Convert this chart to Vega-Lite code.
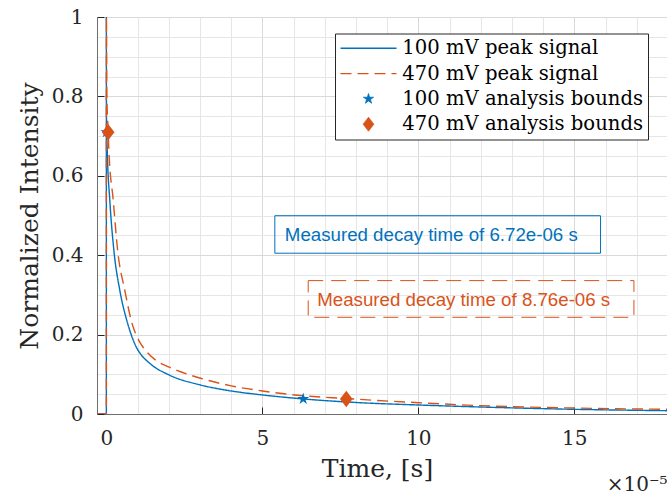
{
  "$schema": "https://vega.github.io/schema/vega-lite/v6.json",
  "width": 570,
  "height": 397,
  "autosize": {"type": "none"},
  "padding": {"left": 97, "top": 17, "right": 0, "bottom": 80},
  "background": "white",
  "config": {"view": {"stroke": null}, "font": "DejaVu Serif"},
  "datasets": {
    "curves": [
      {"series": "100 mV peak signal", "i": 0, "t": -3e-6, "I": 0},
      {"series": "100 mV peak signal", "i": 1, "t": 0, "I": 0},
      {"series": "100 mV peak signal", "i": 2, "t": 1e-9, "I": 1},
      {"series": "100 mV peak signal", "i": 3, "t": 3e-8, "I": 0.75},
      {"series": "100 mV peak signal", "i": 4, "t": 3e-7, "I": 0.66},
      {"series": "100 mV peak signal", "i": 5, "t": 1.1e-6, "I": 0.539},
      {"series": "100 mV peak signal", "i": 6, "t": 2.4e-6, "I": 0.413},
      {"series": "100 mV peak signal", "i": 7, "t": 4.3e-6, "I": 0.312},
      {"series": "100 mV peak signal", "i": 8, "t": 6.5e-6, "I": 0.237},
      {"series": "100 mV peak signal", "i": 9, "t": 8.0e-6, "I": 0.199},
      {"series": "100 mV peak signal", "i": 10, "t": 9.7e-6, "I": 0.167},
      {"series": "100 mV peak signal", "i": 11, "t": 1.08e-5, "I": 0.153},
      {"series": "100 mV peak signal", "i": 12, "t": 1.4e-5, "I": 0.127},
      {"series": "100 mV peak signal", "i": 13, "t": 2.02e-5, "I": 0.098},
      {"series": "100 mV peak signal", "i": 14, "t": 3.02e-5, "I": 0.073},
      {"series": "100 mV peak signal", "i": 15, "t": 4.0e-5, "I": 0.058},
      {"series": "100 mV peak signal", "i": 16, "t": 5.0e-5, "I": 0.048},
      {"series": "100 mV peak signal", "i": 17, "t": 6.3e-5, "I": 0.038},
      {"series": "100 mV peak signal", "i": 18, "t": 8.0e-5, "I": 0.029},
      {"series": "100 mV peak signal", "i": 19, "t": 1.0e-4, "I": 0.0227},
      {"series": "100 mV peak signal", "i": 20, "t": 1.2e-4, "I": 0.0176},
      {"series": "100 mV peak signal", "i": 21, "t": 1.5e-4, "I": 0.0118},
      {"series": "100 mV peak signal", "i": 22, "t": 1.8e-4, "I": 0.0083},
      {"series": "470 mV peak signal", "i": 0, "t": -3e-6, "I": 0},
      {"series": "470 mV peak signal", "i": 1, "t": 0, "I": 0},
      {"series": "470 mV peak signal", "i": 2, "t": 1e-9, "I": 1},
      {"series": "470 mV peak signal", "i": 3, "t": 1.6e-7, "I": 0.80},
      {"series": "470 mV peak signal", "i": 4, "t": 6e-7, "I": 0.71},
      {"series": "470 mV peak signal", "i": 5, "t": 8e-7, "I": 0.665},
      {"series": "470 mV peak signal", "i": 6, "t": 2.2e-6, "I": 0.539},
      {"series": "470 mV peak signal", "i": 7, "t": 3.6e-6, "I": 0.413},
      {"series": "470 mV peak signal", "i": 8, "t": 5.9e-6, "I": 0.312},
      {"series": "470 mV peak signal", "i": 9, "t": 8.1e-6, "I": 0.232},
      {"series": "470 mV peak signal", "i": 10, "t": 1.08e-5, "I": 0.180},
      {"series": "470 mV peak signal", "i": 11, "t": 1.23e-5, "I": 0.163},
      {"series": "470 mV peak signal", "i": 12, "t": 1.56e-5, "I": 0.137},
      {"series": "470 mV peak signal", "i": 13, "t": 2.02e-5, "I": 0.118},
      {"series": "470 mV peak signal", "i": 14, "t": 3.02e-5, "I": 0.090},
      {"series": "470 mV peak signal", "i": 15, "t": 4.0e-5, "I": 0.071},
      {"series": "470 mV peak signal", "i": 16, "t": 5.0e-5, "I": 0.058},
      {"series": "470 mV peak signal", "i": 17, "t": 6.3e-5, "I": 0.046},
      {"series": "470 mV peak signal", "i": 18, "t": 7.7e-5, "I": 0.039},
      {"series": "470 mV peak signal", "i": 19, "t": 8.7e-5, "I": 0.034},
      {"series": "470 mV peak signal", "i": 20, "t": 1.0e-4, "I": 0.0285},
      {"series": "470 mV peak signal", "i": 21, "t": 1.2e-4, "I": 0.021},
      {"series": "470 mV peak signal", "i": 22, "t": 1.5e-4, "I": 0.015},
      {"series": "470 mV peak signal", "i": 23, "t": 1.8e-4, "I": 0.0118}
    ],
    "bounds": [
      {"series": "100 mV analysis bounds", "t": 3e-8, "I": 0.71},
      {"series": "100 mV analysis bounds", "t": 6.31e-5, "I": 0.038},
      {"series": "470 mV analysis bounds", "t": 5.8e-7, "I": 0.71},
      {"series": "470 mV analysis bounds", "t": 7.69e-5, "I": 0.038}
    ],
    "notes": [
      {"series": "100 mV peak signal", "label": "Measured decay time of 6.72e-06 s", "x1": 5.40e-5, "x2": 1.584e-4, "y1": 0.405, "y2": 0.4995, "tx": 5.72e-5, "ty": 0.451},
      {"series": "470 mV peak signal", "label": "Measured decay time of 8.76e-06 s", "x1": 6.47e-5, "x2": 1.691e-4, "y1": 0.2436, "y2": 0.336, "tx": 6.76e-5, "ty": 0.287}
    ]
  },
  "layer": [
    {
      "data": {"name": "curves"},
      "mark": {"type": "line", "interpolate": "monotone", "clip": true, "strokeWidth": 1.4},
      "encoding": {
        "x": {
          "field": "t", "type": "quantitative",
          "scale": {"domain": [-3e-6, 1.797e-4], "nice": false, "zero": false},
          "axis": {
            "orient": "bottom",
            "values": [1e-5, 2e-5, 3e-5, 4e-5, 6e-5, 7e-5, 8e-5, 9e-5, 1.1e-4, 1.2e-4, 1.3e-4, 1.4e-4, 1.6e-4, 1.7e-4],
            "grid": true, "gridColor": "#e6e6e6", "gridWidth": 1,
            "ticks": false, "labels": false, "domain": false,
            "title": "×10⁻⁵", "titleFont": "DejaVu Serif", "titleFontSize": 20, "titleFontWeight": "normal",
            "titleColor": "#262626", "titleAlign": "right", "titleBaseline": "alphabetic",
            "titleX": 570, "titleY": 76, "titleAngle": 0
          }
        },
        "y": {
          "field": "I", "type": "quantitative",
          "scale": {"domain": [0, 1], "nice": false},
          "axis": {
            "orient": "left",
            "values": [0.05, 0.1, 0.15, 0.25, 0.3, 0.35, 0.45, 0.5, 0.55, 0.65, 0.7, 0.75, 0.85, 0.9, 0.95],
            "grid": true, "gridColor": "#e6e6e6", "gridWidth": 1,
            "ticks": false, "labels": false, "domain": false, "title": null
          }
        },
        "order": {"field": "i", "type": "quantitative"},
        "color": {
          "field": "series", "type": "nominal",
          "scale": {
            "domain": ["100 mV peak signal", "470 mV peak signal", "100 mV analysis bounds", "470 mV analysis bounds"],
            "range": ["#0072BD", "#D95319", "#0072BD", "#D95319"]
          },
          "legend": {
            "title": null,
            "orient": "none", "legendX": 238, "legendY": 16.5,
            "direction": "vertical",
            "fillColor": "white", "strokeColor": "#262626",
            "padding": 5, "rowPadding": 4.3,
            "symbolSize": 196, "symbolOffset": 18.7, "labelOffset": 24,
            "labelFont": "DejaVu Serif", "labelFontSize": 19.6, "labelColor": "#000000", "labelLimit": 400,
            "encode": {
              "symbols": {
                "update": {
                  "shape": {"signal": "datum.index < 2 ? 'M-4,0H4' : (datum.index == 2 ? 'M0,-1L0.2245,-0.309L0.9511,-0.309L0.3633,0.118L0.5878,0.809L0,0.382L-0.5878,0.809L-0.3633,0.118L-0.9511,-0.309L-0.2245,-0.309Z' : 'M0,-1.3L1,0L0,1.3L-1,0Z')"},
                  "size": {"signal": "datum.index < 2 ? 196 : 115"},
                  "fill": {"signal": "datum.index < 2 ? 'transparent' : (datum.index == 2 ? '#0072BD' : '#D95319')"},
                  "stroke": {"signal": "datum.index % 2 == 0 ? '#0072BD' : '#D95319'"},
                  "strokeDash": {"signal": "datum.index == 1 ? [11, 6] : [1, 0]"},
                  "strokeWidth": {"signal": "datum.index < 2 ? 1.4 : 0.8"},
                  "opacity": {"value": 1}
                }
              }
            }
          }
        },
        "strokeDash": {
          "field": "series", "type": "nominal",
          "scale": {"domain": ["100 mV peak signal", "470 mV peak signal"], "range": [[1, 0], [11, 6]]},
          "legend": null
        }
      }
    },
    {
      "data": {"name": "bounds"},
      "mark": {"type": "point", "filled": true, "size": 160, "opacity": 1, "strokeWidth": 0.8, "clip": true},
      "encoding": {
        "x": {
          "field": "t", "type": "quantitative",
          "scale": {"domain": [-3e-6, 1.797e-4], "nice": false, "zero": false},
          "axis": {
            "orient": "bottom",
            "values": [0, 5e-5, 1e-4, 1.5e-4],
            "labelExpr": "round(datum.value * 100000)",
            "grid": true, "gridColor": "#d9d9d9", "gridWidth": 1,
            "domainColor": "#6e6e6e", "domainWidth": 1,
            "tickColor": "#262626", "tickSize": -7, "tickWidth": 1,
            "labelPadding": 21, "labelFlush": false, "labelFont": "DejaVu Serif", "labelFontSize": 20, "labelColor": "#262626",
            "title": "Time, [s]", "titleFont": "DejaVu Serif", "titleFontSize": 25, "titleFontWeight": "normal",
            "titleColor": "#262626", "titleAlign": "center", "titleBaseline": "middle",
            "titleX": 280, "titleY": 54, "titleAngle": 0
          }
        },
        "y": {
          "field": "I", "type": "quantitative",
          "scale": {"domain": [0, 1], "nice": false},
          "axis": {
            "orient": "left",
            "values": [0, 0.2, 0.4, 0.6, 0.8, 1],
            "labelExpr": "format(datum.value, '~g')",
            "grid": true, "gridColor": "#d9d9d9", "gridWidth": 1,
            "domainColor": "#6e6e6e", "domainWidth": 1,
            "tickColor": "#262626", "tickSize": -7, "tickWidth": 1,
            "labelPadding": 21, "labelFlush": false, "labelFont": "DejaVu Serif", "labelFontSize": 20, "labelColor": "#262626",
            "title": "Normalized Intensity", "titleFont": "DejaVu Serif", "titleFontSize": 25, "titleFontWeight": "normal",
            "titleColor": "#262626", "titleAlign": "center", "titleBaseline": "middle",
            "titleX": -68, "titleY": 198.5, "titleAngle": -90
          }
        },
        "color": {"field": "series", "type": "nominal", "legend": null},
        "shape": {
          "field": "series", "type": "nominal",
          "scale": {
            "domain": ["100 mV analysis bounds", "470 mV analysis bounds"],
            "range": ["M0,-1L0.2245,-0.309L0.9511,-0.309L0.3633,0.118L0.5878,0.809L0,0.382L-0.5878,0.809L-0.3633,0.118L-0.9511,-0.309L-0.2245,-0.309Z", "M0,-1.3L1,0L0,1.3L-1,0Z"]
          },
          "legend": null
        }
      }
    },
    {
      "data": {"name": "notes"},
      "transform": [{"filter": "datum.series == '100 mV peak signal'"}],
      "mark": {"type": "rect", "filled": false, "strokeWidth": 1},
      "encoding": {
        "x": {"field": "x1", "type": "quantitative", "scale": {"domain": [-3e-6, 1.797e-4], "nice": false, "zero": false}, "axis": null},
        "x2": {"field": "x2"},
        "y": {"field": "y1", "type": "quantitative", "scale": {"domain": [0, 1], "nice": false}, "axis": null},
        "y2": {"field": "y2"},
        "color": {"field": "series", "type": "nominal", "legend": null}
      }
    },
    {
      "data": {"name": "notes"},
      "transform": [{"filter": "datum.series == '470 mV peak signal'"}],
      "mark": {"type": "rect", "filled": false, "strokeWidth": 1, "strokeDash": [15, 8]},
      "encoding": {
        "x": {"field": "x1", "type": "quantitative", "scale": {"domain": [-3e-6, 1.797e-4], "nice": false, "zero": false}, "axis": null},
        "x2": {"field": "x2"},
        "y": {"field": "y1", "type": "quantitative", "scale": {"domain": [0, 1], "nice": false}, "axis": null},
        "y2": {"field": "y2"},
        "color": {"field": "series", "type": "nominal", "legend": null}
      }
    },
    {
      "data": {"name": "notes"},
      "mark": {"type": "text", "align": "left", "baseline": "middle", "font": "Liberation Sans", "fontSize": 18.7},
      "encoding": {
        "x": {"field": "tx", "type": "quantitative", "scale": {"domain": [-3e-6, 1.797e-4], "nice": false, "zero": false}, "axis": null},
        "y": {"field": "ty", "type": "quantitative", "scale": {"domain": [0, 1], "nice": false}, "axis": null},
        "text": {"field": "label"},
        "color": {"field": "series", "type": "nominal", "legend": null}
      }
    }
  ],
  "resolve": {"axis": {"x": "independent", "y": "independent"}}
}
